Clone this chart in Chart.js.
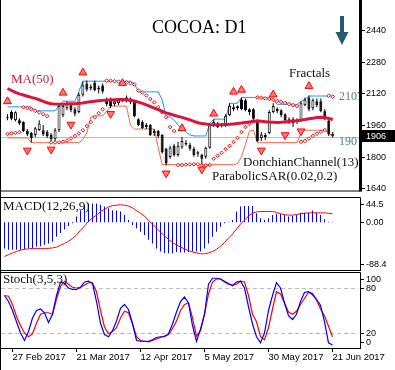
<!DOCTYPE html>
<html>
<head>
<meta charset="utf-8">
<title>COCOA: D1</title>
<script src="https://cdn.jsdelivr.net/npm/chart.js@4.4.1/dist/chart.umd.min.js"></script>
<style>
  html, body { margin: 0; padding: 0; background: #fff; }
  #wrap { position: relative; width: 395px; height: 370px; overflow: hidden; background: #fff; }
  #wrap canvas { position: absolute; left: 0; }
</style>
</head>
<body>
<div id="wrap">
  <canvas id="priceChart" width="395" height="196" style="top:0"></canvas>
  <canvas id="macdChart" width="395" height="76" style="top:196px"></canvas>
  <canvas id="stochChart" width="395" height="98" style="top:272px"></canvas>
</div>
<script>
// daily bars, 16 Feb - 21 Jun 2017 (83 bars) + empty shift on the right
const open = [
  2000, 2026, 1985, 1985, 1975, 1930, 1920, 1910, 1935, 1934,
  1925, 1910, 1888, 1934, 2010, 2045, 2060, 2040, 2026, 2114,
  2170, 2155, 2175, 2150, 2160, 2089, 2095, 2065, 2070, 2085,
  2080, 2095, 2080, 1990, 1975, 1950, 1960, 1920, 1930, 1910,
  1840, 1798, 1855, 1808, 1847, 1870, 1860, 1840, 1815, 1810,
  1800, 1845, 1960, 1968, 1955, 1955, 2010, 2050, 2045, 2089,
  2085, 2040, 2040, 1983, 1895, 1910, 1920, 2026, 2041, 2035,
  2015, 1990, 1970, 1985, 1980, 2060, 2100, 2045, 2080, 2080,
  2030, 1983, 1915
];
const close = [
  1995, 1992, 2025, 1968, 1930, 1912, 1895, 1944, 1968, 1912,
  1905, 1888, 1934, 2056, 2056, 2070, 2035, 2017, 2114, 2162,
  2140, 2145, 2138, 2140, 2130, 2065, 2056, 2080, 2090, 2080,
  2100, 2075, 2005, 1960, 1945, 1960, 1910, 1930, 1905, 1823,
  1765, 1847, 1808, 1855, 1880, 1862, 1840, 1808, 1823, 1790,
  1845, 1959, 1975, 1950, 1962, 2007, 2056, 2040, 2055, 2041,
  2035, 2025, 1992, 1880, 1912, 1900, 2026, 2056, 2030, 2010,
  1985, 1975, 1990, 1975, 2070, 2090, 2040, 2085, 2060, 2030,
  1992, 1912, 1906
];
const high = [
  2015, 2035, 2030, 1995, 1980, 1940, 1925, 1950, 1985, 1960,
  1935, 1920, 1945, 2060, 2065, 2080, 2070, 2050, 2125, 2180,
  2185, 2165, 2185, 2160, 2170, 2100, 2100, 2090, 2095, 2095,
  2110, 2100, 2085, 1995, 1985, 1970, 1965, 1940, 1935, 1915,
  1845, 1855, 1865, 1875, 1900, 1885, 1870, 1850, 1830, 1815,
  1850, 1965, 1990, 1975, 1970, 2015, 2070, 2065, 2060, 2100,
  2095, 2045, 2045, 1990, 1925, 1920, 2035, 2070, 2050, 2040,
  2020, 2000, 2000, 1995, 2080, 2100, 2110, 2095, 2095, 2095,
  2040, 1990, 1925
];
const low = [
  1985, 1985, 1978, 1960, 1925, 1905, 1872, 1900, 1930, 1905,
  1895, 1880, 1880, 1925, 2000, 2035, 2025, 2005, 2020, 2105,
  2130, 2135, 2130, 2120, 2120, 2055, 2045, 2055, 2060, 2075,
  2075, 2065, 2000, 1955, 1940, 1940, 1905, 1905, 1895, 1815,
  1755, 1790, 1800, 1800, 1840, 1855, 1830, 1800, 1800, 1762,
  1790, 1840, 1950, 1945, 1948, 1950, 2005, 2030, 2035, 2035,
  2030, 2010, 1985, 1875, 1880, 1885, 1915, 2020, 2020, 2000,
  1975, 1965, 1950, 1965, 1975, 2055, 2030, 2035, 2050, 2025,
  1985, 1905, 1897
];

// MA(50)
const ma50 = [
  2145, 2135, 2125, 2118, 2112, 2106, 2100, 2095, 2088, 2080,
  2073, 2068, 2066, 2065, 2066, 2067, 2068, 2068, 2070, 2072,
  2075, 2078, 2081, 2083, 2085, 2086, 2087, 2088, 2089, 2089,
  2088, 2086, 2082, 2076, 2070, 2062, 2054, 2046, 2038, 2030,
  2022, 2016, 2010, 2004, 1999, 1993, 1986, 1979, 1972, 1968,
  1965, 1963, 1962, 1962, 1962, 1963, 1964, 1966, 1968, 1970,
  1973, 1976, 1979, 1980, 1979, 1977, 1975, 1974, 1973, 1974,
  1976, 1978, 1980, 1982, 1985, 1988, 1992, 1995, 1998, 2000,
  1998, 1993, 1988
];

// Donchian Channel(13)
const donchUp = [
  2052, 2052, 2052, 2052, 2052, 2052, 2052, 2032, 2032, 2032,
  2032, 2032, 2032, 2060, 2081, 2081, 2081, 2081, 2130, 2182,
  2182, 2182, 2182, 2182, 2182, 2182, 2182, 2182, 2182, 2182,
  2182, 2182, 2170, 2128, 2128, 2128, 2128, 2128, 2128, 2089,
  2002, 2002, 1985, 1960, 1940, 1925, 1910, 1905, 1905, 1905,
  1905, 1968, 1990, 1990, 1990, 1990, 2070, 2070, 2070, 2100,
  2100, 2100, 2100, 2100, 2100, 2100, 2100, 2085, 2065, 2065,
  2065, 2065, 2065, 2065, 2080, 2090, 2107, 2107, 2107, 2107,
  2107, 2107, 2107
];
const donchLow = [
  1895, 1895, 1895, 1895, 1895, 1895, 1871, 1871, 1871, 1871,
  1871, 1871, 1871, 1871, 1871, 1871, 1871, 1871, 1871, 1886,
  1920, 2000, 2007, 2007, 2007, 2030, 2056, 2056, 2056, 2056,
  2056, 1959, 1940, 1940, 1940, 1940, 1940, 1940, 1847, 1760,
  1760, 1760, 1760, 1760, 1760, 1760, 1760, 1760, 1760, 1760,
  1760, 1760, 1760, 1760, 1760, 1760, 1760, 1760, 1765, 1800,
  1862, 1929, 1935, 1871, 1871, 1871, 1871, 1871, 1871, 1871,
  1871, 1871, 1871, 1871, 1920, 1934, 1934, 1934, 1934, 1934,
  1934, 1920, 1901
];

// Parabolic SAR(0.02,0.2)
const sar = [
  1915, 1918, 1921, 1924, 2050, 2046, 2040, 2032, 2024, 2015,
  2005, 1872, 1872, 1873, 1876, 1882, 1892, 1905, 1918, 1934,
  1955, 1975, 2000, 2020, 2040, 2185, 2184, 2182, 2180, 2178,
  2176, 2172, 2165, 2135, 2125, 2110, 2092, 2075, 2050, 2025,
  2000, 1950, 1930, 1758, 1758, 1760, 1761, 1762, 1762, 1755,
  1756, 1758, 1790, 1805, 1820, 1838, 1855, 1875, 1895, 1925,
  1950, 1965, 1978, 2100, 2098, 2095, 2092, 2088, 2082, 2077,
  2072, 2066, 2061, 2056, 1875, 1880, 1892, 1905, 1916, 1926,
  1935, 2108, 2104
];

// Fractals: bar index and price of the marker
const fracUpIdx = [0, 14, 19, 29, 44, 52, 57, 59, 67, 76];
const fracUpVal = [2080, 2123, 2225, 2172, 1944, 2017, 2128, 2138, 2114, 2157];
const fracDnIdx = [5, 11, 16, 26, 40, 49, 64, 70, 74];
const fracDnVal = [1832, 1837, 1963, 2017, 1716, 1736, 1832, 1910, 1929];

// MACD(12,26,9)
const macdHist = [
  -58, -61, -61, -61, -61, -60, -58, -58, -54, -53,
  -50, -47, -43, -32, -24, -16, -8, -2, 13, 27,
  39, 42, 42, 42, 39, 35, 31, 27, 26, 24,
  16, 5, -6, -13, -21, -28, -39, -47, -58, -65,
  -69, -69, -69, -66, -67, -67, -66, -65, -65, -65,
  -58, -47, -32, -21, -10, -2, 1.5, 5, 24, 35,
  36, 36, 36, 20, 9, 5, 9, 16, 19, 19,
  16, 13, 14, 16, 21, 21, 21, 26, 21, 16,
  7, 1.5, 0.5
];
const macdSignal = [
  -76, -72, -68, -65, -62, -60, -59, -58, -58, -58,
  -58, -58, -57, -55, -51, -47, -42, -36, -28, -18,
  -8, 2, 10, 16, 24, 29, 34, 37, 38, 39,
  38, 36, 32, 26, 20, 14, 4, -4, -13, -22,
  -30, -38, -45, -50, -55, -59, -63, -66, -68, -70,
  -70, -68, -65, -60, -53, -45, -35, -26, -15, -4,
  5, 14, 20, 23, 24, 24, 24, 24, 22, 19,
  17, 16, 16, 17, 19, 20, 21, 21, 21, 21,
  21, 20, 19
];

// Stoch(3,5,3)
const stochMain = [
  70, 62, 50, 35, 20, 10, 22, 40, 50, 52,
  47, 34, 45, 70, 88, 86, 80, 78, 78, 81,
  88, 89, 86, 62, 33, 18, 15, 23, 36, 53,
  58, 51, 33, 10, 9, 9, 9, 11, 14, 15,
  15, 19, 32, 48, 62, 68, 60, 30, 9, 25,
  45, 85, 93, 93, 92, 89, 86, 83, 88, 89,
  80, 55, 32, 15, 7, 20, 50, 70, 87, 80,
  60, 43, 38, 45, 62, 74, 75, 71, 65, 57,
  35, 7, 4
];
const stochSignal = [
  70, 69, 58, 42, 30, 20, 15, 19, 33, 45,
  47, 47, 45, 65, 82, 89, 85, 81, 80, 81,
  84, 87, 87, 75, 50, 28, 19, 22, 27, 40,
  49, 47, 32, 15, 10, 9, 8, 10, 12, 14,
  16, 18, 26, 36, 50, 58, 60, 40, 16, 23,
  45, 72, 88, 92, 92, 88, 85, 84, 85, 89,
  88, 70, 45, 35, 15, 11, 27, 52, 75, 72,
  60, 48, 45, 49, 58, 66, 74, 73, 64, 52,
  43, 29, 15
];

// axis ticks and labels
const totalSlots = 89;
const dateTickIdx = [2, 18, 34, 50, 66, 82];
const dateTickText = ['27 Feb 2017', '21 Mar 2017', '12 Apr 2017', '5 May 2017', '30 May 2017', '21 Jun 2017'];
const priceTicks = [1640, 1800, 1960, 2120, 2280, 2440];
const lastPrice = 1906;
const lineLevel = 1901;

const SERIF = '"Liberation Serif", "Times New Roman", serif';
const SANS = '"Liberation Sans", Arial, sans-serif';
Chart.defaults.animation = false;
Chart.defaults.font.family = SANS;

const labels = Array.from({ length: totalSlots }, (_, i) => String(i));
const fracUp = labels.map(() => null);
fracUpIdx.forEach((k, j) => { fracUp[k] = fracUpVal[j]; });
const fracDn = labels.map(() => null);
fracDnIdx.forEach((k, j) => { fracDn[k] = fracDnVal[j]; });

// frames, levels, right-axis labels and text notes
const panelDecor = {
  id: 'panelDecor',
  beforeDatasetsDraw(chart, args, opts) {
    const { ctx, chartArea: a } = chart;
    const y = chart.scales.y;
    ctx.save();
    for (const l of opts.levels || []) {
      const py = Math.round(y.getPixelForValue(l.value)) + 0.5;
      ctx.strokeStyle = l.color;
      ctx.lineWidth = 1;
      ctx.setLineDash(l.dash || []);
      ctx.beginPath();
      ctx.moveTo(1, py);
      ctx.lineTo(a.right, py);
      ctx.stroke();
    }
    ctx.restore();
  },
  afterDraw(chart, args, opts) {
    const { ctx, chartArea: a, height } = chart;
    const y = chart.scales.y;
    const edge = 360.5;
    const rw = opts.rightWidth || 1;
    ctx.save();
    ctx.strokeStyle = '#000';
    ctx.lineWidth = 1;
    ctx.beginPath();
    ctx.moveTo(0.5, 0);
    ctx.lineTo(0.5, height);
    if (opts.frameTop) {
      ctx.moveTo(0, a.top - 0.5);
      ctx.lineTo(edge, a.top - 0.5);
    }
    ctx.moveTo(0, a.bottom + 0.5);
    ctx.lineTo(edge, a.bottom + 0.5);
    ctx.stroke();
    ctx.lineWidth = rw;
    ctx.beginPath();
    ctx.moveTo(edge, opts.frameTop ? a.top - 0.5 : 0);
    ctx.lineTo(edge, a.bottom + 1);
    ctx.stroke();

    // right axis labels
    ctx.lineWidth = 1;
    ctx.font = '9px ' + SANS;
    ctx.fillStyle = '#000';
    ctx.textBaseline = 'middle';
    ctx.textAlign = 'left';
    for (const t of opts.axis || []) {
      const py = Math.round(y.getPixelForValue(t.value) + (t.dy || 0)) + 0.5;
      ctx.beginPath();
      ctx.moveTo(edge + rw / 2, py);
      ctx.lineTo(edge + rw / 2 + 3, py);
      ctx.stroke();
      ctx.fillText(t.text, 366, py);
    }

    // last price tag
    if (opts.tag) {
      const py = Math.round(y.getPixelForValue(opts.tag.value));
      ctx.fillStyle = '#000';
      ctx.fillRect(362, py - 6, 33, 12);
      ctx.fillStyle = '#fff';
      ctx.fillText(opts.tag.text, 366, py + 0.5);
    }

    // notes
    ctx.textBaseline = 'alphabetic';
    for (const t of opts.texts || []) {
      ctx.save();
      if (t.maxX) {
        ctx.beginPath();
        ctx.rect(0, 0, t.maxX, height);
        ctx.clip();
      }
      ctx.font = t.font;
      ctx.fillStyle = t.color;
      ctx.fillText(t.text, t.x, t.y);
      ctx.restore();
    }

    // trend arrow
    if (opts.arrow) {
      const { x, top, bottom } = opts.arrow;
      ctx.fillStyle = '#245c6b';
      ctx.fillRect(x - 2, top, 4, bottom - top - 11);
      ctx.beginPath();
      ctx.moveTo(x - 6.5, bottom - 13);
      ctx.lineTo(x + 6.5, bottom - 13);
      ctx.lineTo(x, bottom);
      ctx.closePath();
      ctx.fill();
    }
    ctx.restore();
  }
};
Chart.register(panelDecor);

const rightAxis = (min, max) => ({
  position: 'right',
  min: min,
  max: max,
  ticks: { display: false },
  grid: { display: false },
  border: { display: false },
  afterFit: s => { s.width = 36.5; }
});
const hiddenX = {
  offset: true,
  display: false,
  grid: { offset: false, display: false }
};
const noise = {
  legend: { display: false },
  tooltip: { enabled: false }
};

new Chart(document.getElementById('priceChart'), {
  type: 'bar',
  data: {
    labels: labels,
    datasets: [
      {
        type: 'line', label: 'Fractals up', data: fracUp, showLine: false,
        pointStyle: 'triangle', pointRadius: 4.5, pointBorderWidth: 1,
        pointBorderColor: '#ff0000', pointBackgroundColor: '#ff7a7a', order: 0
      },
      {
        type: 'line', label: 'Fractals down', data: fracDn, showLine: false,
        pointStyle: 'triangle', pointRotation: 180, pointRadius: 4.5, pointBorderWidth: 1,
        pointBorderColor: '#ff0000', pointBackgroundColor: '#ff7a7a', order: 0
      },
      {
        type: 'line', label: 'MA(50)', data: ma50, borderColor: '#dc143c',
        borderWidth: 3, pointRadius: 0, tension: 0, order: 1
      },
      {
        type: 'line', label: 'SAR', data: sar, showLine: false,
        pointStyle: 'rectRot', pointRadius: 1.8, pointBorderWidth: 1,
        pointBorderColor: '#ff0000', pointBackgroundColor: '#ffffff', order: 2
      },
      {
        label: 'Body', data: open.map((o, i) => [o, close[i]]),
        backgroundColor: open.map((o, i) => close[i] > o ? '#ffffff' : '#000000'),
        borderColor: '#000000', borderWidth: 1, borderSkipped: false,
        barThickness: 3, grouped: false, inflateAmount: 0, order: 3
      },
      {
        label: 'Wick', data: low.map((l, i) => [l, high[i]]),
        backgroundColor: '#000000', borderWidth: 0,
        barThickness: 1, grouped: false, inflateAmount: 0, order: 4
      },
      {
        type: 'line', label: 'Donchian up', data: donchUp, borderColor: '#1e90ff',
        borderWidth: 1, pointRadius: 0, tension: 0, order: 5
      },
      {
        type: 'line', label: 'Donchian low', data: donchLow, borderColor: '#ff6347',
        borderWidth: 1, pointRadius: 0, tension: 0, order: 5
      }
    ]
  },
  options: {
    responsive: false,
    devicePixelRatio: 1,
    events: [],
    layout: { padding: { left: 2.5, top: 2, right: 0, bottom: 1 } },
    scales: { x: hiddenX, y: rightAxis(1629, 2565) },
    plugins: {
      ...noise,
      panelDecor: {
        rightWidth: 3,
        levels: [{ value: lineLevel, color: '#c0c0c0' }],
        axis: priceTicks.map(v => ({ value: v, text: String(v) })),
        tag: { value: lastPrice, text: String(lastPrice) },
        arrow: { x: 342, top: 16, bottom: 45 },
        texts: [
          { text: 'COCOA: D1', x: 152, y: 33, font: '18px ' + SERIF, color: '#000' },
          { text: 'MA(50)', x: 11, y: 83, font: '13px ' + SERIF, color: '#dc143c' },
          { text: 'Fractals', x: 289, y: 77, font: '13px ' + SERIF, color: '#111' },
          { text: '2107', x: 339, y: 100, font: '12px ' + SERIF, color: '#4f8096', maxX: 359 },
          { text: '1901', x: 339, y: 145, font: '12px ' + SERIF, color: '#4f8096', maxX: 359 },
          { text: 'DonchianChannel(13)', x: 243, y: 166, font: '13px ' + SERIF, color: '#111' },
          { text: 'ParabolicSAR(0.02,0.2)', x: 212, y: 180, font: '13px ' + SERIF, color: '#111' }
        ]
      }
    }
  }
});

new Chart(document.getElementById('macdChart'), {
  type: 'bar',
  data: {
    labels: labels,
    datasets: [
      {
        type: 'line', label: 'Signal', data: macdSignal, borderColor: '#ff0000',
        borderWidth: 1, pointRadius: 0, tension: 0, order: 0
      },
      {
        label: 'MACD', data: macdHist, backgroundColor: '#0000ff',
        borderWidth: 0, barThickness: 1, inflateAmount: 0, order: 1
      }
    ]
  },
  options: {
    responsive: false,
    devicePixelRatio: 1,
    events: [],
    layout: { padding: { left: 2.5, top: 2, right: 0, bottom: 2 } },
    scales: { x: hiddenX, y: rightAxis(-106, 54) },
    plugins: {
      ...noise,
      panelDecor: {
        frameTop: true,
        axis: [
          { value: 44.5, text: '44.5', dy: 2 },
          { value: 0, text: '0.00' },
          { value: -88.4, text: '-88.4', dy: 2 }
        ],
        texts: [
          { text: 'MACD(12,26,9)', x: 3, y: 14, font: '13px ' + SERIF, color: '#111' }
        ]
      }
    }
  }
});

new Chart(document.getElementById('stochChart'), {
  type: 'line',
  data: {
    labels: labels,
    datasets: [
      {
        label: 'Main', data: stochMain, borderColor: '#0000ff',
        borderWidth: 1.2, pointRadius: 0, tension: 0
      },
      {
        label: 'Signal', data: stochSignal, borderColor: '#ff0000',
        borderWidth: 1.2, pointRadius: 0, tension: 0
      }
    ]
  },
  options: {
    responsive: false,
    devicePixelRatio: 1,
    events: [],
    layout: { padding: { left: 2.5, top: 1, right: 0, bottom: 0 } },
    scales: {
      x: {
        offset: true,
        grid: {
          offset: false,
          drawOnChartArea: false,
          drawTicks: true,
          tickLength: 4,
          color: c => dateTickIdx.includes(c.index) ? '#000' : 'rgba(0,0,0,0)'
        },
        border: { display: false },
        ticks: {
          autoSkip: false,
          maxRotation: 0,
          minRotation: 0,
          padding: 0,
          align: 'start',
          color: '#000',
          font: { size: 9.5, family: SANS },
          callback: (v, i) => {
            const k = dateTickIdx.indexOf(i);
            return k >= 0 ? dateTickText[k] : '';
          }
        },
        afterFit: s => { s.height = 22; }
      },
      y: rightAxis(0, 100)
    },
    plugins: {
      ...noise,
      panelDecor: {
        frameTop: true,
        levels: [
          { value: 80, color: '#bdbdbd', dash: [4, 3] },
          { value: 20, color: '#bdbdbd', dash: [4, 3] }
        ],
        axis: [
          { value: 100, text: '100', dy: 6 },
          { value: 80, text: '80' },
          { value: 20, text: '20' },
          { value: 0, text: '0', dy: -6 }
        ],
        texts: [
          { text: 'Stoch(3,5,3)', x: 3, y: 11, font: '13px ' + SERIF, color: '#111' }
        ]
      }
    }
  }
});
</script>
</body>
</html>
